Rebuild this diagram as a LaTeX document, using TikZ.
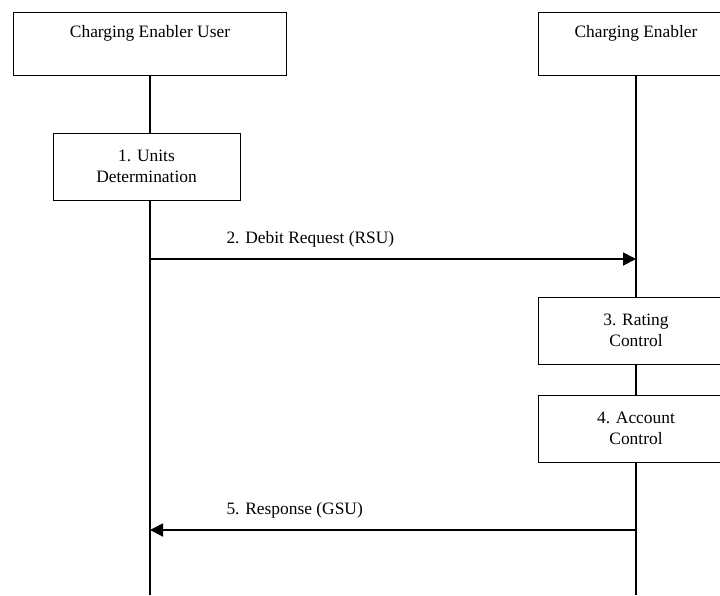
\documentclass[tikz,border=0pt]{standalone}
\usepackage{fontspec}
\setmainfont{Liberation Serif}
\usetikzlibrary{positioning,arrows.meta}
\tikzset{
  >={Triangle[length=13pt,width=13pt]},
}
\tikzstyle{every node}=[font=\fontsize{17.4}{21}\selectfont]
\tikzstyle{entity}=[draw,fill=white,line width=1pt,inner sep=0pt,
  minimum width=273pt,text height=25pt,text depth=38pt]
\tikzstyle{procbox}=[draw,fill=white,line width=1pt,inner sep=0pt,
  align=center,minimum width=187pt,minimum height=67pt]
\tikzstyle{lifeline}=[line width=1.3pt]
\tikzstyle{msg}=[line width=1.8pt,->]

\begin{document}
\begin{tikzpicture}[x=1pt,y=-1pt]
    \useasboundingbox (0,0) rectangle (720,595);
    % entities
    \node[entity] (user) at (150,43.5) {Charging Enabler User};
    \node[entity,minimum width=196pt] (enabler) at (636,43.5) {Charging Enabler};
    % steps
    \node[procbox] (units) at (146.5,166.5) {1. Units\\Determination};
    \node[procbox,minimum width=196pt] (rating) at (636,330.5) {3. Rating\\Control};
    \node[procbox,minimum width=196pt] (account) at (636,428.5) {4. Account\\Control};
    \coordinate (userend) at (150,595);
    \coordinate (enablerend) at (636,595);
    % lifelines
    \draw[lifeline] (user.south) -- (user.south |- units.north);
    \draw[lifeline] (user.south |- units.south) -- (userend);
    \draw[lifeline] (enabler.south) -- (rating.north);
    \draw[lifeline] (rating.south) -- (account.north);
    \draw[lifeline] (account.south) -- (enablerend);
    % messages
    \coordinate (reqfrom) at (150,259);
    \coordinate (reqto) at (636,259);
    \draw[msg] (reqfrom) -- (reqto);
    \node[anchor=base west] (reqlabel) at (223,243) {2. Debit Request (RSU)};
    \coordinate (respfrom) at (636,530);
    \coordinate (respto) at (150,530);
    \draw[msg] (respfrom) -- (respto);
    \node[anchor=base west] (resplabel) at (223,514) {5. Response (GSU)};
\end{tikzpicture}
\end{document}
